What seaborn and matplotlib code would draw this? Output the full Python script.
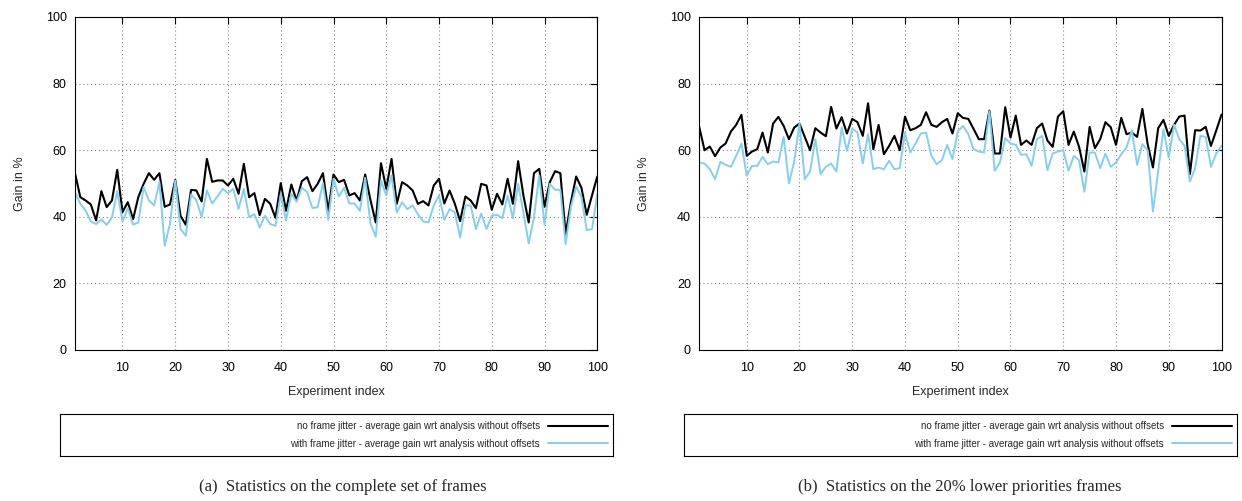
import matplotlib.pyplot as plt
import seaborn as sns
import numpy as np

# experiment index 1..100
idx = np.arange(1, 101)

# (a) complete set of frames
a_no_jitter = [53.1, 45.9, 44.9, 43.7, 38.9, 47.7, 42.9, 44.9, 54.1, 41.4,
               44.4, 39.3, 45.9, 49.9, 53.1, 51.1, 53.1, 43.0, 43.7, 51.1,
               40.3, 37.6, 48.1, 47.9, 44.6, 57.4, 50.5, 50.9, 50.9, 49.4,
               51.4, 46.9, 55.9, 45.9, 47.1, 40.5, 45.4, 43.9, 39.7, 50.1,
               41.8, 49.7, 44.9, 50.7, 51.9, 47.7, 49.9, 53.1, 41.8, 52.7,
               50.4, 51.1, 46.4, 47.1, 44.9, 52.7, 45.1, 38.3, 56.1, 48.4,
               57.4, 43.9, 50.4, 49.4, 47.9, 43.9, 44.7, 43.4, 49.4, 51.4,
               44.0, 47.9, 43.9, 38.7, 46.1, 44.9, 42.6, 49.9, 49.4, 42.1,
               46.9, 43.7, 51.4, 43.9, 56.7, 46.4, 38.3, 53.1, 54.4, 43.0,
               50.4, 53.7, 53.1, 34.8, 44.4, 52.1, 48.7, 40.6, 46.4, 52.1]
a_jitter = [47.4, 43.9, 41.9, 38.6, 37.8, 39.2, 37.6, 39.8, 47.7, 38.6,
            42.6, 37.6, 38.3, 48.9, 44.9, 43.4, 50.4, 31.3, 37.9, 50.9,
            36.3, 34.3, 46.7, 44.9, 40.0, 47.9, 44.0, 46.1, 48.4, 47.1,
            48.4, 42.4, 48.4, 39.9, 40.8, 36.8, 40.3, 37.8, 37.3, 46.9,
            38.9, 46.9, 44.5, 48.7, 47.4, 42.6, 42.9, 50.1, 39.1, 51.4,
            46.1, 48.7, 44.0, 44.0, 41.8, 51.7, 38.0, 34.0, 50.9, 46.4,
            52.4, 41.3, 44.4, 42.3, 43.4, 40.8, 38.6, 38.3, 43.4, 46.4,
            39.1, 42.3, 41.3, 33.8, 43.4, 43.4, 36.3, 41.0, 36.3, 40.3,
            40.6, 39.6, 46.4, 39.6, 49.9, 41.3, 32.0, 39.9, 52.4, 37.6,
            49.9, 48.1, 48.1, 31.8, 43.0, 49.1, 45.9, 36.0, 36.3, 46.7]

# (b) 20% lower priorities frames
b_no_jitter = [67.0, 60.0, 61.1, 58.2, 60.8, 62.0, 65.6, 67.6, 70.6, 58.3,
               59.6, 60.3, 65.3, 59.3, 68.0, 70.0, 67.3, 63.3, 66.8, 68.0,
               64.0, 60.0, 66.6, 65.3, 64.2, 73.0, 66.5, 69.9, 65.0, 69.4,
               68.4, 64.3, 74.1, 60.3, 67.6, 58.8, 61.3, 64.3, 60.0, 70.1,
               66.0, 66.6, 67.6, 71.4, 67.6, 67.0, 68.4, 69.4, 65.0, 71.1,
               69.7, 69.4, 66.4, 63.3, 63.3, 71.9, 59.0, 59.0, 72.9, 63.8,
               70.4, 61.6, 62.9, 61.6, 66.6, 68.0, 62.9, 61.0, 70.1, 71.7,
               61.6, 65.6, 61.0, 53.6, 67.0, 60.6, 63.3, 68.4, 66.9, 61.6,
               69.7, 64.8, 65.3, 64.0, 72.4, 61.8, 54.8, 66.6, 69.1, 64.3,
               67.6, 70.1, 70.4, 52.8, 66.0, 65.9, 67.0, 61.3, 65.9, 70.7]
b_jitter = [56.3, 56.0, 54.3, 51.3, 56.5, 55.6, 55.0, 58.3, 62.0, 52.3,
            55.3, 55.3, 58.0, 55.8, 56.6, 56.3, 64.0, 50.0, 56.6, 68.0,
            51.3, 53.6, 63.3, 52.8, 55.0, 56.0, 53.6, 66.8, 59.8, 66.5,
            65.3, 56.0, 64.8, 54.3, 54.8, 54.3, 56.8, 54.3, 54.6, 65.3,
            59.3, 62.0, 65.0, 65.3, 58.3, 55.8, 57.0, 61.6, 57.3, 65.6,
            67.3, 64.8, 60.3, 59.6, 59.3, 71.7, 53.8, 56.3, 63.6, 62.0,
            61.6, 58.6, 58.8, 55.3, 63.3, 64.3, 54.0, 59.0, 59.6, 60.0,
            53.8, 58.3, 57.0, 47.5, 59.3, 59.3, 54.6, 59.0, 55.0, 56.3,
            58.8, 60.8, 66.0, 55.6, 61.8, 60.0, 41.6, 53.8, 66.3, 57.8,
            67.6, 63.3, 61.3, 50.6, 54.6, 64.3, 64.0, 55.0, 59.0, 61.3]

label_no = 'no frame jitter - average gain wrt analysis without offsets'
label_yes = 'with frame jitter - average gain wrt analysis without offsets'
captions = ['(a)  Statistics on the complete set of frames',
            '(b)  Statistics on the 20% lower priorities frames']

sns.set_style('white')
plt.rcParams['font.family'] = ['Liberation Sans', 'DejaVu Sans']

fig = plt.figure(figsize=(12.42, 5.01), dpi=100)

panels = [(a_no_jitter, a_jitter, 0.0604, 0.0483, 0.2758, captions[0]),
          (b_no_jitter, b_jitter, 0.5630, 0.5507, 0.7730, captions[1])]

for no_j, with_j, ax_left, leg_left, cap_x, cap in panels:
    ax = fig.add_axes([ax_left, 0.3014, 0.4205, 0.6647])
    sns.lineplot(x=idx, y=no_j, ax=ax, color='black', linewidth=1.5, label=label_no)
    sns.lineplot(x=idx, y=with_j, ax=ax, color='#87CEEB', linewidth=1.4, label=label_yes)

    ax.set_xlim(1, 100)
    ax.set_ylim(0, 100)
    ax.set_xticks(range(10, 101, 10))
    ax.set_yticks(range(0, 101, 20))
    ax.grid(True, color='#888888', linestyle=(0, (1, 2.5)), linewidth=0.8)
    ax.tick_params(direction='in', top=True, right=True, length=5, width=0.8,
                   labelsize=9, colors='black')
    ax.tick_params(axis='x', pad=9)
    ax.tick_params(axis='y', pad=6)
    for s in ax.spines.values():
        s.set_color('black')
        s.set_linewidth(0.8)
    ax.set_xlabel('Experiment index', fontsize=9, labelpad=8)
    ax.set_ylabel('Gain in %', fontsize=9, labelpad=14)

    handles, labels = ax.get_legend_handles_labels()
    ax.get_legend().remove()

    # legend box below the plot
    lax = fig.add_axes([leg_left, 0.0898, 0.4450, 0.0838])
    lax.set_xticks([])
    lax.set_yticks([])
    for s in lax.spines.values():
        s.set_color('black')
        s.set_linewidth(0.8)
    lax.legend(handles, labels, loc='center right', frameon=False, markerfirst=False,
               handlelength=6.2, handletextpad=0.8, fontsize=7, labelspacing=0.75,
               borderaxespad=0.1)

    fig.text(cap_x, 0.028, cap, family=['Liberation Serif', 'DejaVu Serif'],
             fontsize=12, ha='center', va='center')

fig.savefig('out.png', dpi=100)
